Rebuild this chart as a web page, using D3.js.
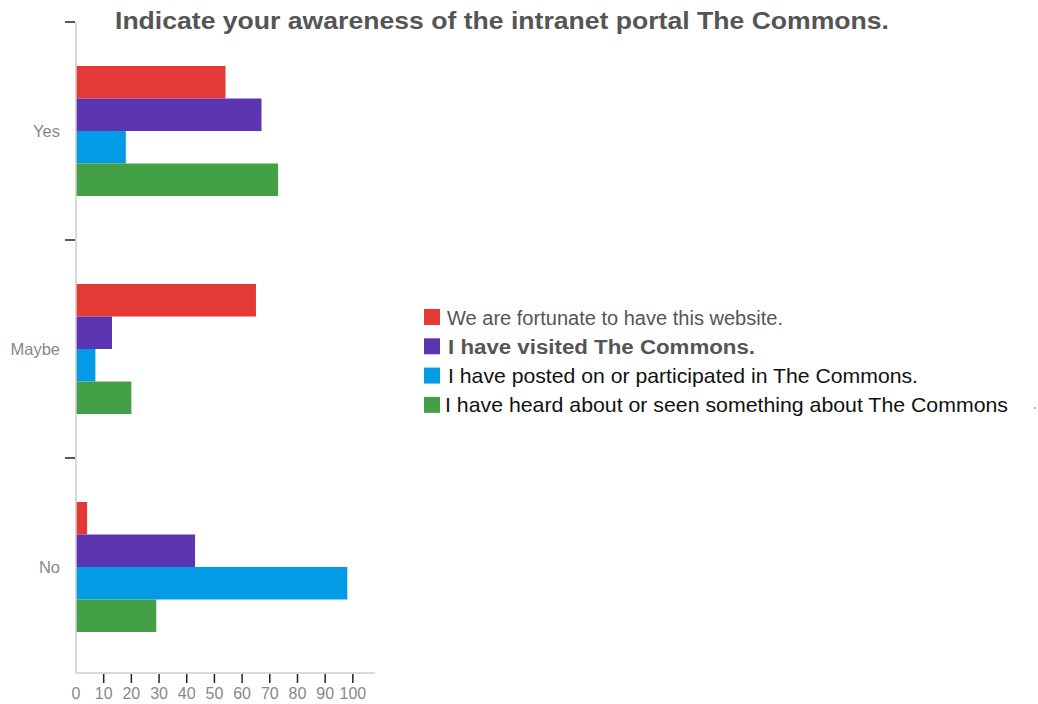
<!DOCTYPE html>
<html>
<head>
<meta charset="utf-8">
<script src="https://cdn.jsdelivr.net/npm/d3@7"></script>
<style>
  html, body { margin: 0; padding: 0; background: #fff; }
  svg { display: block; }
</style>
</head>
<body>
<svg id="chart" width="1038" height="704"></svg>
<script>
// Survey responses
const categories = ["Yes", "Maybe", "No"];
const seriesNames = [
  "We are fortunate to have this website.",
  "I have visited The Commons.",
  "I have posted on or participated in The Commons.",
  "I have heard about or seen something about The Commons"
];
const fortunate = [54, 65, 4];
const visited = [67, 13, 43];
const posted = [18, 7, 98];
const heard = [73, 20, 29];
const xTicks = [0, 10, 20, 30, 40, 50, 60, 70, 80, 90, 100];
const titleText = "Indicate your awareness of the intranet portal The Commons.";

const seriesValues = [fortunate, visited, posted, heard];
const colors = ["#e53935", "#5e35b1", "#039be5", "#43a047"];

// Legend text styling per row
const legendStyles = [
  { fill: "#555", weight: "normal", size: 20, dx: 23, len: 336 },
  { fill: "#555", weight: "bold",   size: 20, dx: 24, len: 307 },
  { fill: "#111", weight: "normal", size: 21, dx: 24, len: 470 },
  { fill: "#111", weight: "normal", size: 21, dx: 21, len: 563 }
];

const svg = d3.select("#chart");
const font = "'Liberation Sans', Arial, Helvetica, sans-serif";

const x = d3.scaleLinear().domain([0, 108]).range([76, 375]);
const y = d3.scaleBand().domain(categories).range([22, 676]).paddingInner(0).paddingOuter(0);
const yInner = d3.scaleBand().domain(d3.range(seriesNames.length))
  .range([44, y.bandwidth() - 44]).padding(0);

// Title
svg.append("text")
  .attr("x", 115).attr("y", 29)
  .attr("font-family", font)
  .attr("font-size", 24)
  .attr("font-weight", "bold")
  .attr("fill", "#555")
  .attr("textLength", 774)
  .attr("lengthAdjust", "spacingAndGlyphs")
  .text(titleText);

// Bars
const groups = svg.append("g").selectAll("g")
  .data(categories)
  .join("g")
  .attr("transform", c => `translate(0,${y(c)})`);

groups.selectAll("rect")
  .data((c, ci) => seriesValues.map((vals, si) => ({ si, v: vals[ci] })))
  .join("rect")
  .attr("x", x(0))
  .attr("y", d => yInner(d.si))
  .attr("width", d => x(d.v) - x(0))
  .attr("height", yInner.bandwidth())
  .attr("fill", d => colors[d.si]);

// Axis lines
const axisBottom = 673;
svg.append("line")
  .attr("x1", x(0)).attr("x2", x(0))
  .attr("y1", y.range()[0]).attr("y2", axisBottom)
  .attr("stroke", "#ccc").attr("stroke-width", 1.5);
svg.append("line")
  .attr("x1", x(0)).attr("x2", x.range()[1])
  .attr("y1", axisBottom).attr("y2", axisBottom)
  .attr("stroke", "#ccc").attr("stroke-width", 1.5);

// Category boundary ticks
svg.append("g").selectAll("line")
  .data(categories)
  .join("line")
  .attr("x1", 65).attr("x2", 75)
  .attr("y1", c => y(c)).attr("y2", c => y(c))
  .attr("stroke", "#222").attr("stroke-width", 1.5);

// Category labels
svg.append("g").selectAll("text")
  .data(categories)
  .join("text")
  .attr("x", 60)
  .attr("y", c => y(c) + y.bandwidth() / 2 + 6)
  .attr("text-anchor", "end")
  .attr("font-family", font)
  .attr("font-size", 16.5)
  .attr("fill", "#888")
  .text(c => c);

// Value ticks
svg.append("g").selectAll("line")
  .data(xTicks.filter(t => t > 0))
  .join("line")
  .attr("x1", t => x(t)).attr("x2", t => x(t))
  .attr("y1", axisBottom + 1).attr("y2", axisBottom + 10)
  .attr("stroke", "#222").attr("stroke-width", 1.5);

svg.append("g").selectAll("text")
  .data(xTicks)
  .join("text")
  .attr("x", t => x(t))
  .attr("y", 699)
  .attr("text-anchor", "middle")
  .attr("font-family", font)
  .attr("font-size", 16)
  .attr("fill", "#888")
  .text(t => t);

// Legend
const legend = svg.append("g").selectAll("g")
  .data(seriesNames)
  .join("g")
  .attr("transform", (d, i) => `translate(424,${317 + i * 29.3})`);

legend.append("rect")
  .attr("x", 0).attr("y", -8)
  .attr("width", 16).attr("height", 16)
  .attr("fill", (d, i) => colors[i]);

legend.append("text")
  .attr("x", (d, i) => legendStyles[i].dx)
  .attr("y", 7.5)
  .attr("font-family", font)
  .attr("font-size", (d, i) => legendStyles[i].size)
  .attr("font-weight", (d, i) => legendStyles[i].weight)
  .attr("fill", (d, i) => legendStyles[i].fill)
  .attr("textLength", (d, i) => legendStyles[i].len)
  .attr("lengthAdjust", "spacingAndGlyphs")
  .text(d => d);

svg.append("circle")
  .attr("cx", 1035).attr("cy", 408).attr("r", 0.9)
  .attr("fill", "#999");
</script>
</body>
</html>
